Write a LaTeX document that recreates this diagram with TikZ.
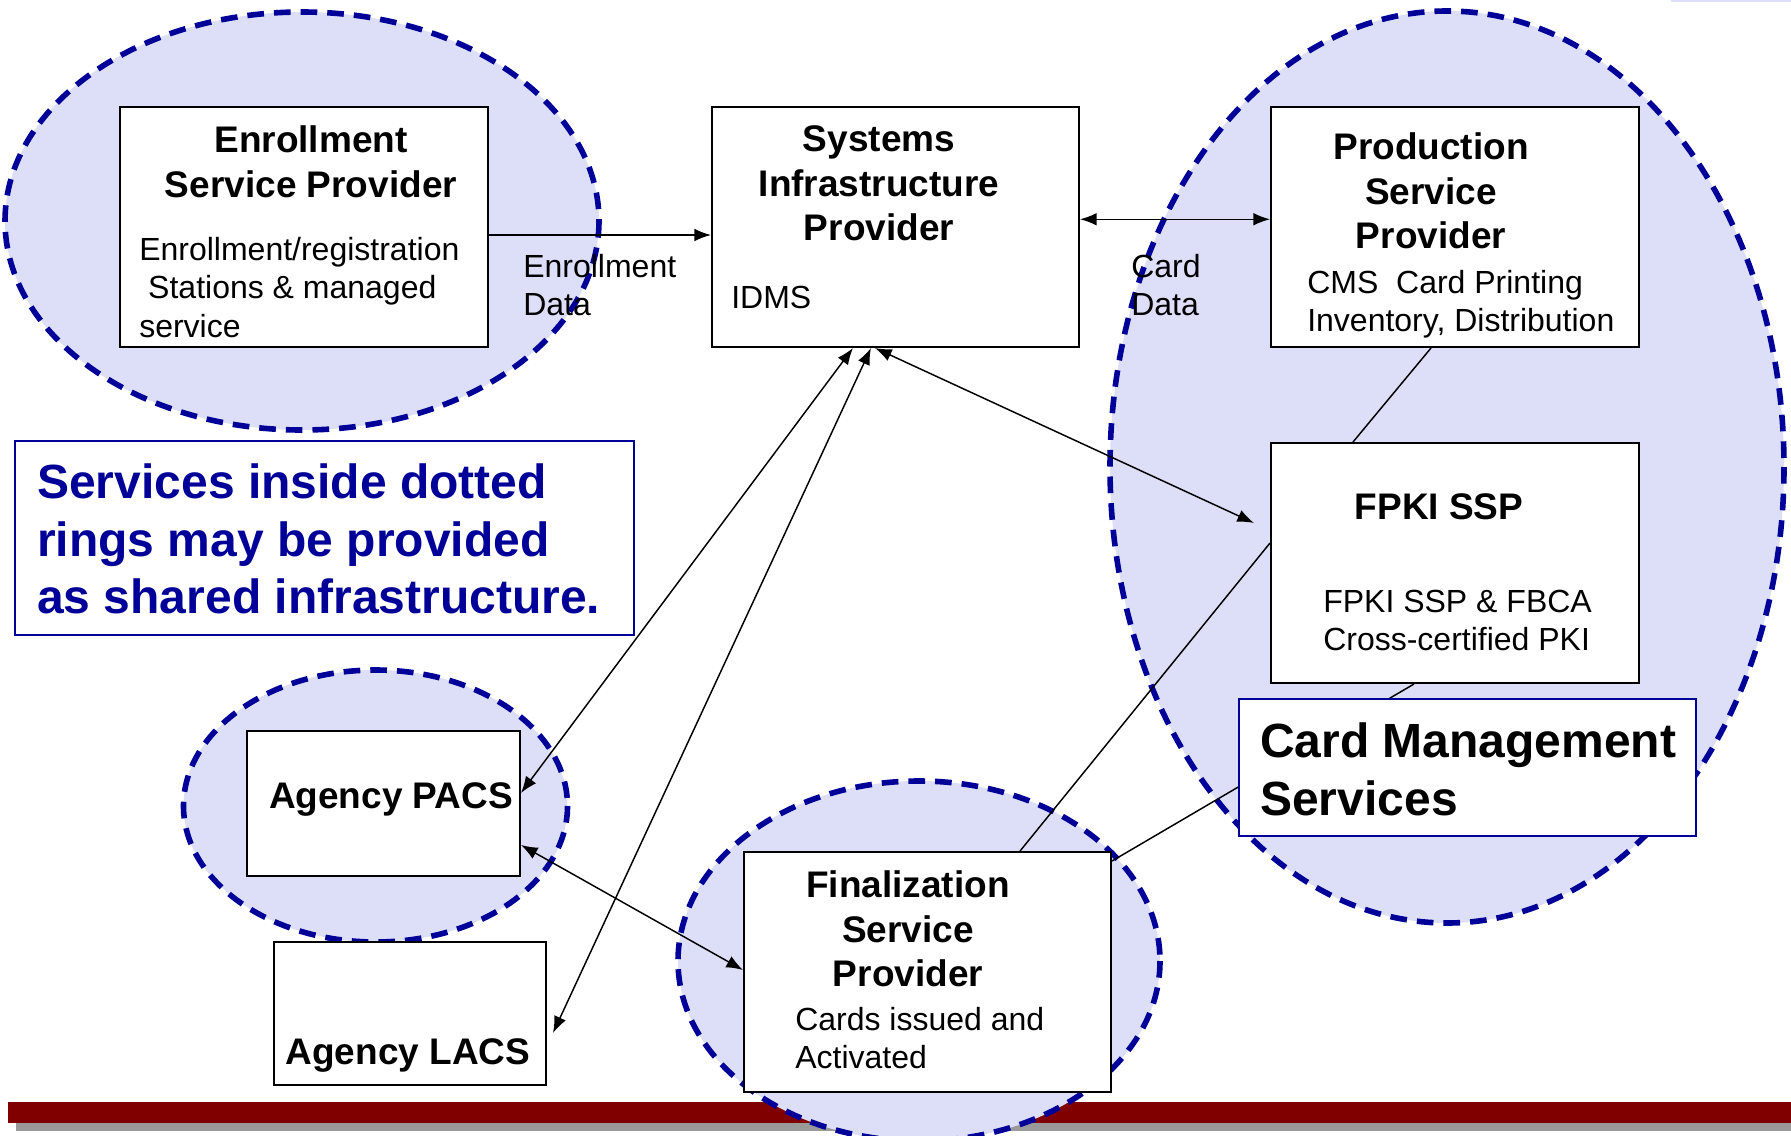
\documentclass[tikz,border=0pt]{standalone}
\usepackage{fontspec}
\setmainfont{Liberation Sans}
\usetikzlibrary{arrows.meta}
\definecolor{ringfill}{RGB}{221,223,248}
\definecolor{ringline}{RGB}{0,0,153}
\definecolor{barred}{RGB}{128,0,0}
\definecolor{bargray}{RGB}{153,153,153}

\begin{document}
\begin{tikzpicture}[x=0.75pt,y=0.75pt,yscale=-1,xscale=1,
  ring/.style={fill=ringfill,draw=ringline,line width=4.2pt,dash pattern=on 12.5pt off 7.5pt},
  box/.style={draw=black,fill=white,line width=1.5pt,inner sep=0pt},
  bluebox/.style={draw=ringline,fill=white,line width=1.4pt,inner sep=0pt},
  head/.style={font=\bfseries\fontsize{27.75}{33.4}\selectfont,inner sep=0pt,align=center},
  body/.style={font=\fontsize{24}{28.9}\selectfont,inner sep=0pt,align=left},
  big/.style={font=\bfseries\fontsize{36}{43.1}\selectfont,inner sep=0pt,align=left},
  link/.style={line width=1.1pt},
  arr/.style={link,-{Latex[length=12.5pt,width=9.5pt]}},
  dblarr/.style={link,{Latex[length=12.5pt,width=9.5pt]}-{Latex[length=12.5pt,width=9.5pt]}}]
\useasboundingbox (0,0) rectangle (1791,1135);

%Shape: Rectangle (bottom bar)
\fill[ringfill] (1671,0) rectangle (1791,1.5);
\fill[bargray] (16,1110) rectangle (1791,1131);
\fill[barred] (8,1102) rectangle (1791,1123);

%Shape: Ellipse
\draw[ring] (302,221) ellipse [x radius=297, y radius=209];
%Shape: Ellipse
\draw[ring] (1447,467) ellipse [x radius=337, y radius=456];
%Shape: Ellipse
\draw[ring] (375.5,806) ellipse [x radius=192, y radius=136];
%Shape: Ellipse
\draw[ring] (919,961) ellipse [x radius=241, y radius=180];

%Shape: Rectangle
\node[box,minimum width=276pt,minimum height=180pt] (enroll) at (304,227) {};
%Shape: Rectangle
\node[box,minimum width=275.25pt,minimum height=180pt] (sys) at (895.5,227) {};
%Shape: Rectangle
\node[box,minimum width=276pt,minimum height=180pt] (prod) at (1455,227) {};
%Shape: Rectangle
\node[box,minimum width=276pt,minimum height=180pt] (fpki) at (1455,563) {};
%Shape: Rectangle
\node[box,minimum width=275.25pt,minimum height=180pt] (fin) at (927.5,972) {};
%Shape: Rectangle
\node[box,minimum width=204.75pt,minimum height=108.75pt] (pacs) at (383.5,803.5) {};
%Shape: Rectangle
\node[box,minimum width=204pt,minimum height=107.25pt] (lacs) at (410,1013.5) {};

%Straight Lines
\draw[arr] ([yshift=6pt]enroll.east) -- ([yshift=6pt]sys.west);
%Straight Lines
\draw[dblarr] ([yshift=-5.8pt]sys.east) -- ([yshift=-5.8pt]prod.west);
%Straight Lines
\draw[link] ([xshift=-18pt]prod.south) -- ([xshift=-76.5pt]fpki.north);
%Straight Lines
\draw[link] ([xshift=-30.75pt]fpki.south) -- ([yshift=7.5pt]fin.north east);
%Straight Lines
\draw[link] ([xshift=69.4pt]fin.north) -- ([yshift=-15pt]fpki.west);
%Straight Lines
\draw[dblarr] ([xshift=-15.4pt]sys.south) -- ([xshift=-12pt,yshift=-30pt]fpki.west);
%Straight Lines
\draw[dblarr] ([xshift=-31.9pt]sys.south) -- ([yshift=-7.9pt]pacs.east);
%Straight Lines
\draw[dblarr] ([xshift=-18.4pt]sys.south) -- ([xshift=4.5pt,yshift=14.6pt]lacs.east);
%Straight Lines
\draw[dblarr] ([yshift=31.1pt]pacs.east) -- ([yshift=-1.5pt]fin.west);

%Shape: Rectangle
\node[bluebox,minimum width=464.25pt,minimum height=145.5pt] (note) at (324.5,538) {};
%Shape: Rectangle
\node[bluebox,minimum width=342.75pt,minimum height=102.75pt] (cms) at (1467.5,767.5) {};

% Text Node
\draw (311,125.5) node [anchor=north][head] (enrollhead) {Enrollment\\Service Provider};
% Text Node
\draw (139,237) node [anchor=north west][body] (enrollbody) {Enrollment/registration\\\hspace*{0.28em}Stations \& managed\\service};
% Text Node
\draw (523,253.6) node [anchor=north west][body] (enrolldata) {Enrollment\\Data};
% Text Node
\draw (879,125.5) node [anchor=north][head] (syshead) {Systems\\Infrastructure\\Provider};
% Text Node
\draw (731,285.4) node [anchor=north west][body] (sysbody) {IDMS};
% Text Node
\draw (1131,253.6) node [anchor=north west][body] (carddata) {Card\\Data};
% Text Node
\draw (1431,132.5) node [anchor=north][head] (prodhead) {Production\\Service\\Provider};
% Text Node
\draw (1307,269.6) node [anchor=north west][body] (prodbody) {CMS\ \ Card Printing\\Inventory, Distribution};
% Text Node
\draw (1439,493.5) node [anchor=north][head] (fpkihead) {FPKI SSP};
% Text Node
\draw (1323,589.6) node [anchor=north west][body] (fpkibody) {FPKI SSP \& FBCA\\Cross-certified PKI};
% Text Node
\draw (908,870.5) node [anchor=north][head] (finhead) {Finalization\\Service\\Provider};
% Text Node
\draw (795,1006.6) node [anchor=north west][body] (finbody) {Cards issued and\\Activated};
% Text Node
\draw (391,782.5) node [anchor=north][head] (pacshead) {Agency PACS};
% Text Node
\draw (408,1038.5) node [anchor=north][head] (lacshead) {Agency LACS};
% Text Node
\draw (37,463.6) node [anchor=north west][big,text=ringline] (notetext) {Services inside dotted\\rings may be provided\\as shared infrastructure.};
% Text Node
\draw (1260,722.6) node [anchor=north west][big] (cmstext) {Card Management\\Services};

\end{tikzpicture}
\end{document}
